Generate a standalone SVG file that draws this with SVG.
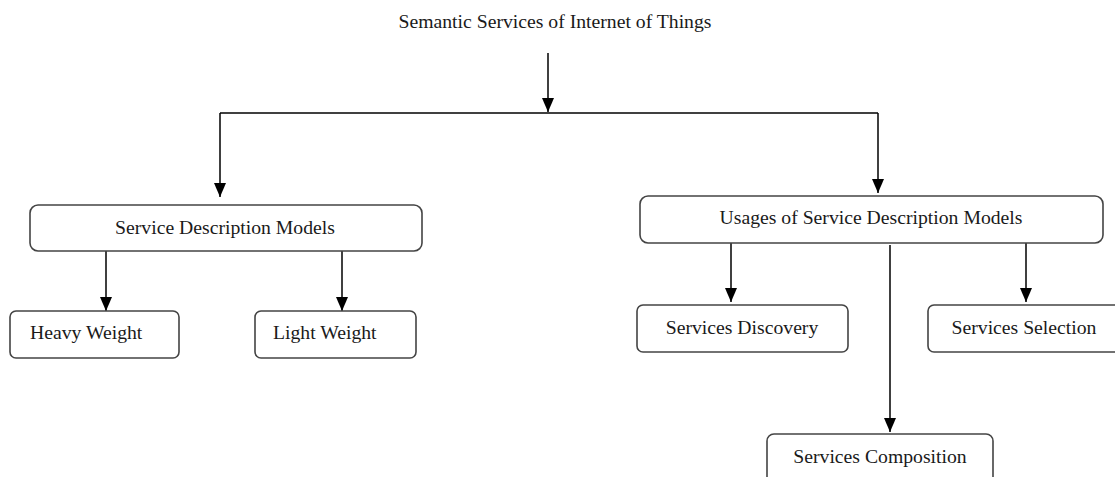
<svg xmlns="http://www.w3.org/2000/svg" width="1115" height="477" viewBox="0 0 1115 477">
<style>
text{font-family:"Liberation Serif","Times New Roman",serif;font-size:19.7px;fill:#1a1a1a}
.box{fill:#fff;stroke:#444;stroke-width:1.6}
.ln{fill:none;stroke:#000;stroke-width:1.5}
</style>
<defs>
<marker id="a" markerWidth="14" markerHeight="12" refX="14" refY="6" orient="auto" markerUnits="userSpaceOnUse" viewBox="0 0 14 12">
<path d="M0,0 L14,6 L0,12 Z" fill="#000"/>
</marker>
</defs>
<g id="title"><text x="555" y="28" text-anchor="middle">Semantic Services of Internet of Things</text></g>
<g id="connectors">
<path class="ln" d="M548,53 V112" marker-end="url(#a)"/>
<path class="ln" d="M220,113 H878"/>
<path class="ln" d="M220,113 V197" marker-end="url(#a)"/>
<path class="ln" d="M878,113 V193" marker-end="url(#a)"/>
<path class="ln" d="M106,251 V311" marker-end="url(#a)"/>
<path class="ln" d="M342,251 V311" marker-end="url(#a)"/>
<path class="ln" d="M731,243 V302" marker-end="url(#a)"/>
<path class="ln" d="M1026,243 V302" marker-end="url(#a)"/>
<path class="ln" d="M890,245 V432" marker-end="url(#a)"/>
</g>
<g id="sdm"><rect class="box" x="30" y="205" width="392" height="46" rx="8"/><text x="225" y="234" text-anchor="middle">Service Description Models</text></g>
<g id="heavy"><rect class="box" x="10" y="311" width="169" height="47" rx="6"/><text x="30" y="339">Heavy Weight</text></g>
<g id="light"><rect class="box" x="255" y="311" width="161" height="47" rx="6"/><text x="273" y="339">Light Weight</text></g>
<g id="usages"><rect class="box" x="640" y="196" width="463" height="47" rx="8"/><text x="871" y="224" text-anchor="middle">Usages of Service Description Models</text></g>
<g id="discovery"><rect class="box" x="637" y="305" width="211" height="47" rx="6"/><text x="742" y="334" text-anchor="middle">Services Discovery</text></g>
<g id="selection"><rect class="box" x="928" y="305" width="200" height="47" rx="6"/><text x="1024" y="334" text-anchor="middle">Services Selection</text></g>
<g id="composition"><rect class="box" x="767" y="434" width="226" height="60" rx="7"/><text x="880" y="463" text-anchor="middle">Services Composition</text></g>
</svg>
